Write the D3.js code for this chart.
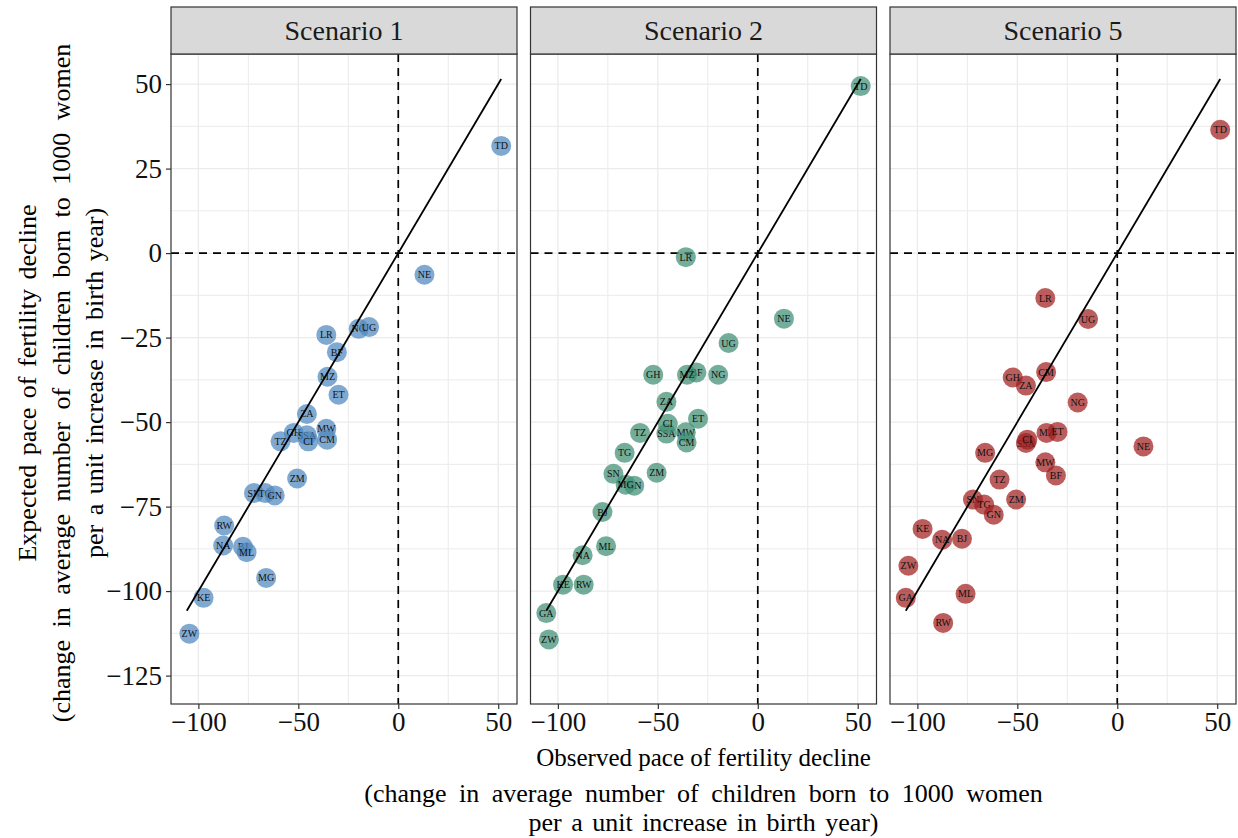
<!DOCTYPE html>
<html>
<head>
<meta charset="utf-8">
<script src="https://cdn.jsdelivr.net/npm/d3@7"></script>
<style>
  body { margin: 0; background: #fff; }
  svg { display: block; font-family: "Liberation Serif", "Times New Roman", serif; }
</style>
</head>
<body>
<svg id="chart" width="1238" height="838"></svg>
<script>
// Country codes (same order in every array below)
const codes = ["TD","NE","LR","NG","UG","BF","MZ","ET","ZA","GH","SSA","CI","MW","CM","TZ","ZM","SN","TG","GN","RW","NA","BJ","ML","MG","KE","ZW","GA"];

// Observed pace of fertility decline
const observed = [51.5, 13.1, -36, -19.8, -14.6, -30.7, -35.4, -29.9, -45.7, -52.3, -45.7, -45, -36, -35.6, -58.9, -50.6, -72.2, -66.6, -61.8, -87.1, -87.6, -77.7, -75.9, -66.1, -97.4, -104.5, -105.8];

// Expected pace under each scenario
const expectedS1 = [31.7, -6.4, -24.2, -22.4, -21.9, -29.3, -36.6, -41.9, -47.6, -53.2, -53.9, -55.7, -52, -55.2, -55.7, -66.7, -71, -71, -71.7, -80.6, -86.5, -86.9, -88.5, -96.1, -102, -112.6, -136.5];
const expectedS2 = [49.4, -19.4, -1.2, -36, -26.6, -35.3, -36, -49, -44, -36, -53.4, -50.5, -53, -56, -53.2, -65, -65.3, -59.1, -68.8, -98.1, -89.4, -76.6, -86.7, -68.5, -98.1, -114.3, -106.5];
const expectedS5 = [36.5, -57.2, -13.3, -44.2, -19.5, -65.8, -53.2, -52.9, -39.2, -36.8, -56.2, -55.2, -61.9, -35.2, -67, -72.9, -72.9, -74.4, -77.4, -109.4, -84.8, -84.5, -100.8, -59.1, -81.6, -92.5, -102];

const panelTitles = ["Scenario 1", "Scenario 2", "Scenario 5"];
const panelFills = ["#4f88bf", "#3f8f73", "#a11f1f"];
const xTicks = [-100, -50, 0, 50];
const yTicks = [50, 25, 0, -25, -50, -75, -100, -125];

const panels = [expectedS1, expectedS2, expectedS5].map((exp, i) => ({
  title: panelTitles[i],
  fill: panelFills[i],
  points: codes.map((c, j) => ({ code: c, x: observed[j], y: exp[j] }))
}));

const svg = d3.select("#chart");

const plotTop = 54, plotBottom = 704;
const panelW = 346, panelGap = 13.5, firstLeft = 171;
const stripTop = 7;
const tickFont = 27, titleFont = 26;

const x = d3.scaleLinear().domain([-113.7, 59.4]).range([0, panelW]);
const y = d3.scaleLinear().domain([-133.4, 58.9]).range([plotBottom, plotTop]);

const xMinorTicks = d3.range(-100, 60, 25);
const yMinorTicks = d3.range(-125, 60, 12.5);
const [xLo, xHi] = d3.extent(observed);

panels.forEach((p, i) => {
  const left = firstLeft + i * (panelW + panelGap);
  const g = svg.append("g").attr("transform", `translate(${left},0)`);
  const clipId = "clip" + i;

  svg.append("defs").append("clipPath").attr("id", clipId)
    .append("rect").attr("x", 0).attr("y", plotTop).attr("width", panelW).attr("height", plotBottom - plotTop);

  // grid
  const grid = g.append("g");
  grid.selectAll("line.vx").data(xMinorTicks).join("line")
    .attr("x1", d => x(d)).attr("x2", d => x(d))
    .attr("y1", plotTop).attr("y2", plotBottom)
    .attr("stroke", "#ebebeb").attr("stroke-width", d => xTicks.includes(d) ? 1.3 : 1);
  grid.selectAll("line.hy").data(yMinorTicks).join("line")
    .attr("x1", 0).attr("x2", panelW)
    .attr("y1", d => y(d)).attr("y2", d => y(d))
    .attr("stroke", "#ebebeb").attr("stroke-width", d => yTicks.includes(d) ? 1.3 : 1);

  const inner = g.append("g").attr("clip-path", `url(#${clipId})`);

  // reference lines at zero
  inner.append("line")
    .attr("x1", x(0)).attr("x2", x(0)).attr("y1", plotTop).attr("y2", plotBottom)
    .attr("stroke", "#000").attr("stroke-width", 1.7).attr("stroke-dasharray", "8,6");
  inner.append("line")
    .attr("x1", 0).attr("x2", panelW).attr("y1", y(0)).attr("y2", y(0))
    .attr("stroke", "#000").attr("stroke-width", 1.7).attr("stroke-dasharray", "8,6");

  // points (only those inside the y range carry a label)
  const [yMin, yMax] = y.domain();
  const pts = inner.selectAll("g.pt").data(p.points).join("g")
    .attr("transform", d => `translate(${x(d.x)},${y(d.y)})`);
  pts.append("circle").attr("r", 10)
    .attr("fill", p.fill).attr("fill-opacity", 0.72);
  pts.filter(d => d.y >= yMin && d.y <= yMax).append("text")
    .attr("text-anchor", "middle").attr("dy", "0.35em")
    .attr("font-size", 10).attr("fill", "#111")
    .text(d => d.code);

  // identity line over the observed range
  inner.append("line")
    .attr("x1", x(xLo)).attr("y1", y(xLo))
    .attr("x2", x(xHi)).attr("y2", y(xHi))
    .attr("stroke", "#000").attr("stroke-width", 1.8);

  // panel border
  g.append("rect").attr("x", 0).attr("y", plotTop).attr("width", panelW).attr("height", plotBottom - plotTop)
    .attr("fill", "none").attr("stroke", "#333").attr("stroke-width", 1.2);

  // strip
  g.append("rect").attr("x", 0).attr("y", stripTop).attr("width", panelW).attr("height", plotTop - stripTop)
    .attr("fill", "#d9d9d9").attr("stroke", "#333").attr("stroke-width", 1.2);
  g.append("text").attr("x", panelW / 2).attr("y", (stripTop + plotTop) / 2)
    .attr("text-anchor", "middle").attr("dy", "0.35em")
    .attr("font-size", 28).attr("fill", "#1a1a1a").text(p.title);

  // x axis
  const xAxis = g.append("g").attr("transform", `translate(0,${plotBottom})`)
    .call(d3.axisBottom(x).tickValues(xTicks).tickSize(5).tickPadding(3).tickFormat(d3.format("d")));
  xAxis.select(".domain").remove();
  xAxis.selectAll(".tick line").attr("stroke", "#333").attr("stroke-width", 1.2);
  xAxis.selectAll(".tick text").attr("font-size", tickFont).attr("fill", "#111")
    .attr("font-family", "Liberation Serif, serif");

  if (i === 0) {
    const yAxis = g.append("g")
      .call(d3.axisLeft(y).tickValues(yTicks).tickSize(5).tickPadding(4).tickFormat(d3.format("d")));
    yAxis.select(".domain").remove();
    yAxis.selectAll(".tick line").attr("stroke", "#333").attr("stroke-width", 1.2);
    yAxis.selectAll(".tick text").attr("font-size", tickFont).attr("fill", "#111")
      .attr("font-family", "Liberation Serif, serif");
  }
});

// axis titles
const titleLines = ["(change in average number of children born to 1000 women", "per a unit increase in birth year)"];
const xCenter = firstLeft + (3 * panelW + 2 * panelGap) / 2;
const xt = svg.append("text").attr("text-anchor", "middle").attr("font-size", titleFont).attr("fill", "#000");
xt.append("tspan").attr("x", xCenter).attr("y", 766).attr("font-size", 25).text("Observed pace of fertility decline");
xt.append("tspan").attr("x", xCenter).attr("y", 802).attr("word-spacing", 6).text(titleLines[0]);
xt.append("tspan").attr("x", xCenter).attr("y", 831).attr("word-spacing", 3).text(titleLines[1]);

const yCenter = (plotTop + plotBottom) / 2 + 4;
const yt = svg.append("text").attr("text-anchor", "middle").attr("font-size", titleFont).attr("fill", "#000")
  .attr("transform", `translate(0,${yCenter}) rotate(-90)`);
yt.append("tspan").attr("x", 0).attr("y", 36).attr("word-spacing", 3).text("Expected pace of fertility decline");
yt.append("tspan").attr("x", 0).attr("y", 70).attr("word-spacing", 6).text(titleLines[0]);
yt.append("tspan").attr("x", 0).attr("y", 103).attr("word-spacing", 3).text(titleLines[1]);
</script>
</body>
</html>
